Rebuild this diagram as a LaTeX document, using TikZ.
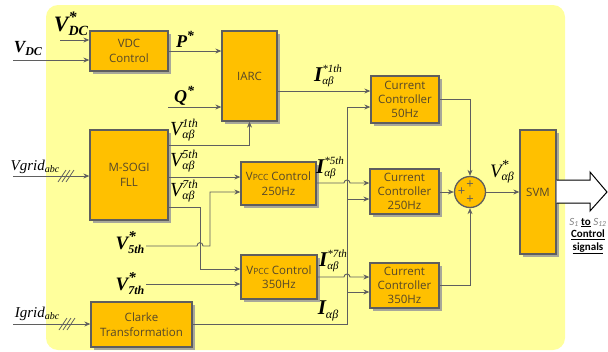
\documentclass[tikz,border=0pt]{standalone}
\usepackage{fontspec}
\setmainfont{Open Sans}
\newfontfamily\tms{Liberation Serif}
\newfontfamily\carl{Carlito}
\usetikzlibrary{arrows.meta,shadows}

\definecolor{bg}{HTML}{FFFF9C}
\definecolor{boxf}{HTML}{FFC000}
\definecolor{boxd}{HTML}{5E5E5E}
\definecolor{ln}{HTML}{5F5F5F}
\definecolor{btxt}{HTML}{55472A}
\definecolor{shd}{HTML}{A8A89A}

\newcommand\fs[1]{\fontsize{#1}{#1}\selectfont}
% base, sup, sup-raise, sub, sub-raise  (sup wider)
\newcommand\SupW[5]{#1\rlap{\raisebox{#5}{#4}}\raisebox{#3}{#2}}
% base, sup, sup-raise, sub, sub-raise  (sub wider)
\newcommand\SubW[5]{#1\rlap{\raisebox{#3}{#2}}\raisebox{#5}{#4}}

\tikzset{
 blk/.style={draw=boxd, line width=1.3pt, fill=boxf,
   drop shadow={shadow xshift=2.5pt, shadow yshift=-2.5pt, fill=shd, opacity=1},
   text=btxt, font=\fontsize{11.5}{14.5}\selectfont, align=center, inner sep=0pt},
 arr/.style={draw=ln, line width=0.9pt, -{Stealth[length=6pt,width=5pt]}},
 lab/.style={inner sep=0pt, font=\tms\itshape},
 blab/.style={inner sep=0pt, font=\tms\bfseries\itshape},
 slash/.style={draw=ln, line width=0.8pt},
 plus/.style={inner sep=0pt, text=boxd, font=\fs{13}},
}

\begin{document}
\begin{tikzpicture}[x=1pt,y=-1pt]
\useasboundingbox (0,0) rectangle (608,351);
\fill[bg, rounded corners=12pt] (46,5) rectangle (565,350);

% blocks
\node[blk, minimum width=78pt, minimum height=40pt] (vdc) at (129,51) {VDC\\Control};
\node[blk, minimum width=55pt, minimum height=90pt] (iarc) at (249.5,76) {IARC};
\node[blk, minimum width=78pt, minimum height=90pt] (sogi) at (129,175) {M-SOGI\\FLL};
\node[blk, minimum width=101pt, minimum height=45pt] (clarke) at (141.5,324.5) {Clarke\\Transformation};
\node[blk, minimum width=75pt, minimum height=43pt] (vp250) at (278.5,183.5) {V{\fs{8.5}PCC} Control\\250Hz};
\node[blk, minimum width=76pt, minimum height=44pt] (vp350) at (279,277) {V{\fs{8.5}PCC} Control\\350Hz};
\node[blk, minimum width=68pt, minimum height=47pt, font=\fontsize{11.5}{14}\selectfont] (cc50) at (405,99.5) {Current\\Controller\\50Hz};
\node[blk, minimum width=69pt, minimum height=45pt, font=\fontsize{11.5}{14}\selectfont] (cc250) at (404.5,191.5) {Current\\Controller\\250Hz};
\node[blk, minimum width=69pt, minimum height=45pt, font=\fontsize{11.5}{14}\selectfont] (cc350) at (404.5,285.5) {Current\\Controller\\350Hz};
\node[blk, minimum width=36pt, minimum height=124pt] (svm) at (538,192) {SVM};
\node[draw=boxd, line width=1.3pt, fill=boxf, circle, minimum size=31pt, inner sep=0pt] (sum) at (470,192) {};
\node[plus] (p1) at (470,184.5) {+};
\node[plus] (p2) at (461.5,192) {+};
\node[plus] (p3) at (470,200) {+};

% free ends
\coordinate (vdcs) at (60,40);
\coordinate (vdcin) at (13,60);
\coordinate (qs) at (168,107);
\coordinate (vgin) at (13,176);
\coordinate (igin) at (13,324);
\coordinate (v5s) at (146,246);
\coordinate (v7s) at (146,284);

% inputs
\draw[arr] (vdcs) -- (vdcs -| vdc.west);
\draw[arr] (vdcin) -- (vdcin -| vdc.west);
\draw[arr] (vdc.east) -- (vdc.east -| iarc.west);
\draw[arr] (qs) -- (qs -| iarc.west);
\draw[arr] (vgin) -- (vgin -| sogi.west);
\draw[arr] (igin) -- (igin -| clarke.west);
\foreach \c in {62,66,70} \draw[slash] (\c-4,182) -- (\c+4,170);
\foreach \c in {63,67,71} \draw[slash] (\c-4,330) -- (\c+4,318);

% M-SOGI outputs
\draw[arr] (sogi.east |- 0,145) -| (iarc.south);
\draw[arr] (sogi.east |- 0,177) -- (vp250.west |- 0,177);
\draw[arr] (sogi.east |- 0,207) -- (200,207) -- (200,269) -- (vp350.west |- 0,269);
\draw[arr] (v5s) -- (197,246) .. controls (197,241.5) and (203,241.5) .. (203,246) -- (210,246) -- (210,192) -- (vp250.west |- 0,192);
\draw[arr] (v7s) -- (v7s -| vp350.west);

% references to current controllers
\draw[arr] (iarc.east |- 0,91) -- (cc50.west |- 0,91);
\draw[arr] (vp250.east |- 0,183) -- (344,183) .. controls (344,179) and (350,179) .. (350,183) -- (cc250.west |- 0,183);
\draw[arr] (vp350.east |- 0,277) -- (344,277) .. controls (344,273) and (350,273) .. (350,277) -- (cc350.west |- 0,277);

% measured current
\draw[arr] (clarke.east |- 0,324) -- (347,324) -- (347,107) -- (cc50.west |- 0,107);
\draw[arr] (347,199) -- (cc250.west |- 0,199);
\draw[arr] (347,292) -- (cc350.west |- 0,292);

% summation and SVM
\draw[arr] (cc50.east) -| (sum.north);
\draw[arr] (cc250.east |- sum.west) -- (sum.west);
\draw[arr] (cc350.east) -| (sum.south);
\draw[arr] (sum.east) -- (sum.east -| svm.west);

% output arrow
\fill[white] (svm.east |- 0,180) -- (590,180) -- (590,172) -- (607,192) -- (590,211) -- (590,203) -- (svm.east |- 0,203) -- cycle;
\draw[black, line width=1pt, line join=miter] (svm.east |- 0,180) -- (590,180) -- (590,172) -- (607,192) -- (590,211) -- (590,203) -- (svm.east |- 0,203);
\node[inner sep=0pt, align=center, font=\carl\fontsize{11}{12.5}\selectfont] (sig) at (588,236)
 {{\color{gray}\itshape S\textsubscript{1}} \underline{\textbf{to}} {\color{gray}\itshape S\textsubscript{12}}\\
  \underline{\textbf{Control}}\\ \underline{\textbf{signals}}};

% labels
\node[blab, font=\tms\bfseries\itshape\fs{22}] (lvdcs) at (71,24)
  {\SubW{V}{\fs{16}*}{9pt}{\fs{14}DC}{-4pt}};
\node[blab, font=\tms\bfseries\itshape\fs{17}] (lvdc) at (28,48)
  {V\raisebox{-3pt}{\fs{12}DC}};
\node[blab, font=\tms\bfseries\itshape\fs{18}] (lp) at (185,39) {P\raisebox{7pt}{\fs{14}*}};
\node[blab, font=\tms\bfseries\itshape\fs{18}] (lq) at (184,96) {Q\raisebox{7pt}{\fs{14}*}};
\node[lab, font=\tms\itshape\fs{20}] (lv1) at (184,130)
  {\SupW{V}{\fs{12}1th}{8pt}{\fs{12}αβ}{-3pt}};
\node[lab, font=\tms\itshape\fs{20}] (lv5) at (184,161)
  {\SupW{V}{\fs{12}5th}{8pt}{\fs{12}αβ}{-3pt}};
\node[lab, font=\tms\itshape\fs{20}] (lv7) at (184,191)
  {\SupW{V}{\fs{12}7th}{8pt}{\fs{12}αβ}{-3pt}};
\node[lab, font=\tms\itshape\fs{15}] (lvg) at (35,167) {Vgrid\raisebox{-2pt}{\fs{10}abc}};
\node[lab, font=\tms\itshape\fs{15}] (lig) at (37,314) {Igrid\raisebox{-2pt}{\fs{10}abc}};
\node[blab, font=\tms\bfseries\itshape\fs{19}] (lv5s) at (130,243)
  {\SubW{V}{\fs{15}*}{8pt}{\fs{12}5th}{-4pt}};
\node[blab, font=\tms\bfseries\itshape\fs{19}] (lv7s) at (130,284)
  {\SubW{V}{\fs{15}*}{8pt}{\fs{12}7th}{-4pt}};
\node[blab, font=\tms\bfseries\itshape\fs{21}] (li1) at (328,76)
  {\SupW{I}{\mdseries\fs{11}*1th}{9pt}{\mdseries\fs{11}αβ}{-3pt}};
\node[blab, font=\tms\bfseries\itshape\fs{21}] (li5) at (330,168)
  {\SupW{I}{\mdseries\fs{11}*5th}{9pt}{\mdseries\fs{11}αβ}{-3pt}};
\node[blab, font=\tms\bfseries\itshape\fs{21}] (li7) at (333,261)
  {\SupW{I}{\mdseries\fs{11}*7th}{9pt}{\mdseries\fs{11}αβ}{-3pt}};
\node[blab, font=\tms\bfseries\itshape\fs{21}] (li) at (328,311)
  {I\raisebox{-4pt}{\mdseries\fs{12}αβ}};
\node[lab, font=\tms\itshape\fs{19}] (lvab) at (502,172)
  {\SubW{V}{\fs{14}*}{8pt}{\fs{12}αβ}{-3pt}};
\end{tikzpicture}
\end{document}
